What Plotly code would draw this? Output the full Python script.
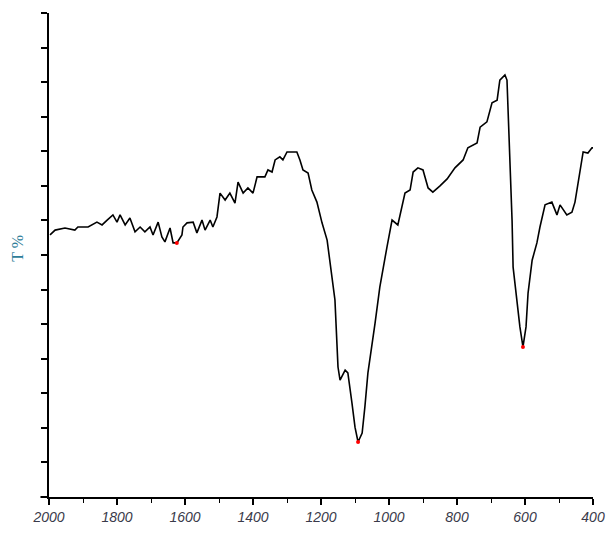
import plotly.graph_objects as go

# Wavenumber (cm^-1) and transmittance (arbitrary units, axis 0-14)
wavenumber = [
    1997, 1982, 1953, 1924, 1915, 1885, 1859, 1844, 1829, 1812, 1800, 1791, 1776, 1762,
    1747, 1732, 1718, 1703, 1694, 1679, 1668, 1659, 1644, 1635, 1624, 1609, 1606, 1594,
    1576, 1565, 1550, 1541, 1526, 1518, 1506, 1497, 1482, 1468, 1453, 1444, 1429, 1415,
    1400, 1388, 1365, 1356, 1344, 1335, 1321, 1312, 1300, 1271, 1262, 1253, 1238, 1227,
    1212, 1197, 1182, 1174, 1159, 1150, 1144, 1129, 1121, 1109, 1100, 1091, 1079, 1071,
    1062, 1041, 1027, 1006, 991, 974, 962, 953, 938, 929, 915, 900, 885, 871, 850, 829,
    806, 791, 782, 768, 741, 732, 712, 697, 682, 674, 659, 653, 650, 644, 638, 635, 624,
    615, 606, 597, 591, 579, 565, 556, 541, 521, 506, 497, 477, 462, 453, 438, 429, 415,
    403, 397,
]
transmittance = [
    7.58, 7.72, 7.78, 7.72, 7.81, 7.81, 7.95, 7.87, 8.01, 8.16, 7.95, 8.16, 7.87, 8.07,
    7.67, 7.81, 7.67, 7.81, 7.58, 7.95, 7.52, 7.38, 7.78, 7.35, 7.35, 7.58, 7.81, 7.93,
    7.95, 7.64, 8.01, 7.72, 8.01, 7.81, 8.10, 8.79, 8.59, 8.79, 8.50, 9.11, 8.79, 8.94,
    8.79, 9.26, 9.26, 9.46, 9.40, 9.75, 9.84, 9.75, 9.98, 9.98, 9.75, 9.46, 9.37, 8.88,
    8.53, 7.93, 7.43, 6.86, 5.70, 3.76, 3.38, 3.67, 3.59, 2.72, 2.02, 1.59, 1.85, 2.60,
    3.59, 5.03, 6.07, 7.23, 8.01, 7.87, 8.39, 8.79, 8.88, 9.40, 9.52, 9.46, 8.94, 8.82,
    9.00, 9.20, 9.52, 9.66, 9.75, 10.10, 10.24, 10.70, 10.85, 11.40, 11.48, 12.06, 12.21,
    12.06, 11.28, 9.75, 7.99, 6.65, 5.61, 4.92, 4.34, 4.92, 5.90, 6.85, 7.35, 7.81, 8.45,
    8.53, 8.16, 8.45, 8.16, 8.24, 8.53, 9.37, 9.98, 9.95, 10.10, 10.10,
]

# Marked band minima (red dots)
peak_wavenumber = [1624, 1091, 606]
peak_transmittance = [7.35, 1.59, 4.34]

x_tick_values = [2000, 1800, 1600, 1400, 1200, 1000, 800, 600, 400]
x_tick_labels = ["2000", "1800", "1600", "1400", "1200", "1000", "800", "600", "400"]

fig = go.Figure()
fig.add_trace(go.Scatter(
    x=wavenumber, y=transmittance, mode="lines",
    line=dict(color="black", width=1.6), showlegend=False, hoverinfo="skip",
))
fig.add_trace(go.Scatter(
    x=peak_wavenumber, y=peak_transmittance, mode="markers",
    marker=dict(color="red", size=4), showlegend=False,
))

fig.update_layout(
    width=607, height=537,
    margin=dict(l=49, r=14, t=13, b=40, autoexpand=False),
    paper_bgcolor="white", plot_bgcolor="white",
    font=dict(family="Liberation Sans, Arial, sans-serif"),
)
fig.update_xaxes(
    range=[2000, 400], autorange=False, automargin=False,
    tickvals=x_tick_values, ticktext=["<i>" + t + "</i>" for t in x_tick_labels],
    ticks="outside", ticklen=6, tickwidth=1.5, tickcolor="black",
    minor=dict(dtick=100, tick0=0, ticks="outside", ticklen=4, tickwidth=1, tickcolor="black"),
    showline=True, linecolor="black", linewidth=1.5,
    showgrid=False, zeroline=False,
    tickfont=dict(size=14, color="#3a3a4a", family="Liberation Sans", style="italic"),
)
fig.update_yaxes(
    range=[0, 14], autorange=False, automargin=False,
    tick0=0, dtick=1,
    ticks="outside", ticklen=6, tickwidth=1.5, tickcolor="black",
    showticklabels=False,
    showline=True, linecolor="black", linewidth=1.5,
    showgrid=False, zeroline=False,
)
fig.add_shape(type="line", xref="paper", yref="paper", x0=-0.016, x1=0, y0=0, y1=0,
              line=dict(color="black", width=1.5))
fig.add_annotation(
    text="T %", xref="paper", yref="paper", x=-0.057, y=0.515,
    showarrow=False, textangle=-90, xanchor="center", yanchor="middle",
    font=dict(size=16, color="#2e7d99", family="Liberation Serif, serif"),
)

fig.write_html("out.html")
